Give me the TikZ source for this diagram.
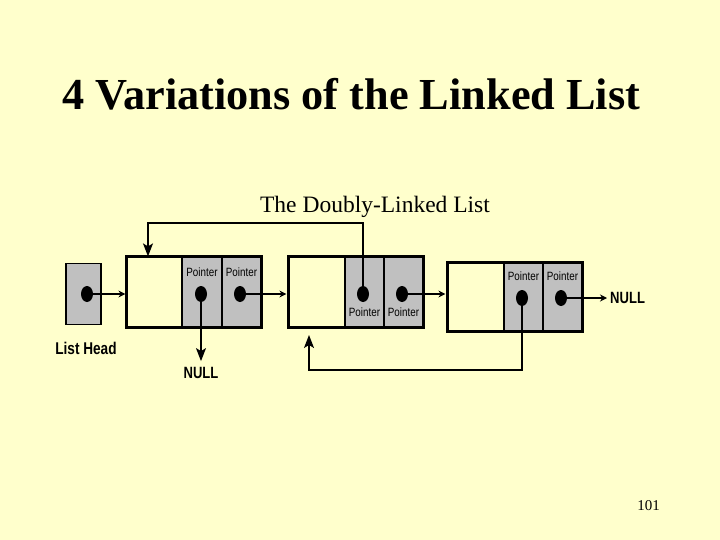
\documentclass[tikz,border=0pt]{standalone}
\usepackage{fontspec}
\setmainfont{Liberation Serif}
\newfontfamily\lblfont[FakeStretch=0.82]{Liberation Sans}
\newfontfamily\narrowbold[FakeStretch=0.8]{Liberation Sans Bold}
\usetikzlibrary{shapes.geometric,arrows.meta}
\definecolor{bgyellow}{HTML}{FFFFCC}
\definecolor{cellgray}{HTML}{C0C0C0}
\tikzset{
  cellw/.style={draw, line width=1.2pt, inner sep=0pt, minimum height=70pt},
  cellg/.style={cellw, fill=cellgray},
  outerbox/.style={draw, line width=2pt},
  dotnode/.style={ellipse, fill=black, inner sep=0pt, minimum width=12pt, minimum height=16pt},
  ptrlbl/.style={font=\lblfont\fontsize{12}{12}\selectfont, inner sep=0pt},
  nulllbl/.style={font=\narrowbold\fontsize{16.3}{18}\selectfont, inner sep=0pt},
  smallarrow/.style={line width=1.3pt, -{Stealth[length=7pt,width=7pt]}},
  bigarrow/.style={line width=1.3pt, -{Stealth[length=13pt,width=10pt,inset=3pt]}},
}
\begin{document}
\begin{tikzpicture}[x=1pt,y=-1pt]
\fill[bgyellow] (0,0) rectangle (720,540);
\useasboundingbox (0,0) rectangle (720,540);

% title
\node[anchor=base west, inner sep=0pt, font=\fontsize{44.3}{50}\selectfont\bfseries] (title) at (62,110) {4 Variations of the Linked List};
\node[anchor=base, inner sep=0pt, font=\fontsize{23.5}{26}\selectfont] (sub) at (375,212) {The Doubly-Linked List};
\node[anchor=base east, inner sep=0pt, font=\fontsize{15}{16}\selectfont] (pg) at (660,510) {101};

% list head
\node[cellg, line width=1.2pt, minimum width=35pt, minimum height=61pt] (lh) at (83.5,294) {};
\node[dotnode] (dlh) at (87,294) {};
\node[nulllbl, font=\narrowbold\fontsize{17}{18}\selectfont] (lhl) at (86,348) {List Head};

% node 1
\node[cellw, minimum width=55pt] (n1a) at (154.5,292) {};
\node[cellg, minimum width=40pt] (n1b) at (202,292) {};
\node[cellg, minimum width=39pt] (n1c) at (241.5,292) {};
\draw[outerbox] (n1a.north west) rectangle (n1c.south east);
\node[ptrlbl] (p1b) at (202,272) {Pointer};
\node[ptrlbl] (p1c) at (241.5,272) {Pointer};
\node[dotnode] (d1a) at (201,294) {};
\node[dotnode] (d1b) at (240,294) {};

% node 2
\node[cellw, minimum width=56pt] (n2a) at (317,292) {};
\node[cellg, minimum width=39pt] (n2b) at (364.5,292) {};
\node[cellg, minimum width=39pt] (n2c) at (403.5,292) {};
\draw[outerbox] (n2a.north west) rectangle (n2c.south east);
\node[ptrlbl] (p2b) at (364.5,312) {Pointer};
\node[ptrlbl] (p2c) at (403.5,312) {Pointer};
\node[dotnode] (d2a) at (363,294) {};
\node[dotnode] (d2b) at (402,294) {};

% node 3
\node[cellw, minimum width=56pt, minimum height=68pt] (n3a) at (476,297) {};
\node[cellg, minimum width=39pt, minimum height=68pt] (n3b) at (523.5,297) {};
\node[cellg, minimum width=39pt, minimum height=68pt] (n3c) at (562.5,297) {};
\draw[outerbox] (n3a.north west) rectangle (n3c.south east);
\node[ptrlbl] (p3b) at (523.5,276) {Pointer};
\node[ptrlbl] (p3c) at (562.5,276) {Pointer};
\node[dotnode] (d3a) at (522,298) {};
\node[dotnode] (d3b) at (561,298) {};

% NULL labels
\node[nulllbl] (null1) at (201,373) {NULL};
\node[nulllbl, anchor=west] (null2) at (610,298) {NULL};

% coordinates for connectors
\coordinate (t1) at (148,223);
\coordinate (b1) at (309,370);
\coordinate (b2) at (309,335);

% connectors
\draw[smallarrow] (dlh.center) -- ([xshift=-1pt]n1a.west |- dlh);
\draw[smallarrow] (d1b.center) -- ([xshift=-2pt]n2a.west |- d1b);
\draw[smallarrow] (d2b.center) -- ([xshift=-2pt]n3a.west |- d2b);
\draw[smallarrow] (d3b.center) -- ([xshift=-3pt]null2.west);
\draw[bigarrow] (d1a.center) -- ([yshift=6pt]null1.north);
\draw[bigarrow] (d2a.center) |- (t1) -- (t1 |- n1a.north);
\draw[bigarrow] (d3a.center) |- (b1) -- (b2);
\end{tikzpicture}
\end{document}
